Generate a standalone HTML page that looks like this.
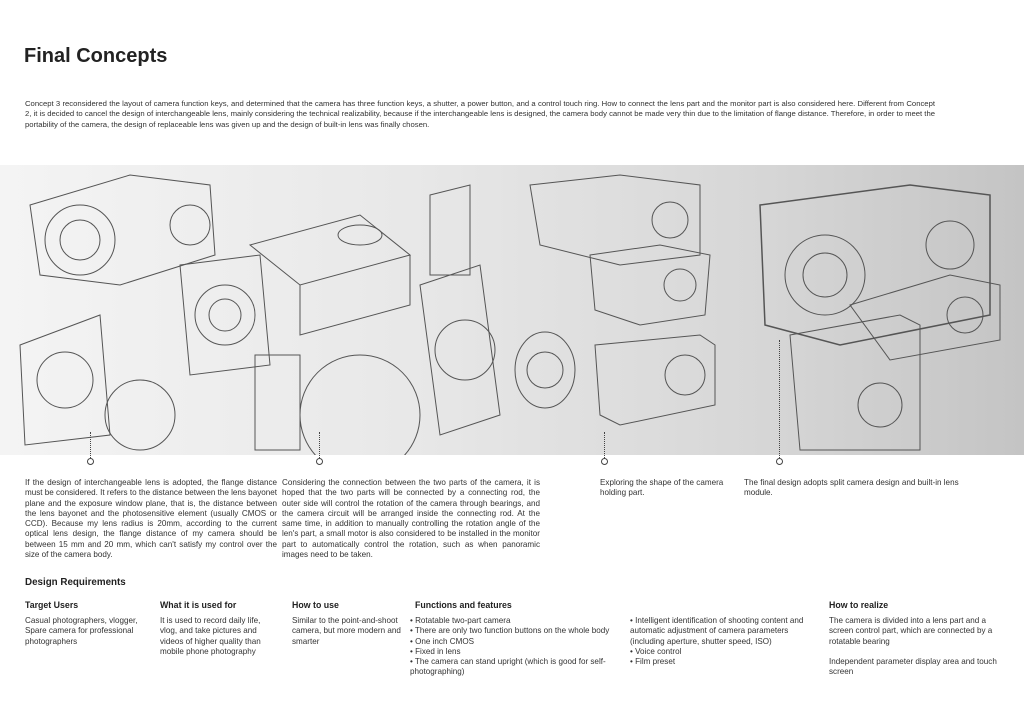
<!DOCTYPE html>
<html><head><meta charset="utf-8"><style>
*{margin:0;padding:0;box-sizing:border-box}
body{width:1024px;height:724px;background:#fff;position:relative;overflow:hidden;font-family:"Liberation Sans",sans-serif;color:#333}
.a{position:absolute}
h1{position:absolute;left:24px;top:45px;font-size:20px;font-weight:bold;color:#222}
.p{font-size:8.1px;line-height:10.3px;text-align:justify;color:#333}
.h{font-size:8.8px;font-weight:bold;color:#222}
.band{left:0;top:165px;width:1024px;height:290px;background:linear-gradient(90deg,#f4f4f4 0%,#e8e8e8 40%,#d6d6d6 75%,#c4c4c4 100%)}
.dot{position:absolute;width:7px;height:7px;border:1px solid #444;border-radius:50%;background:#fff}
.dl{position:absolute;width:0;border-left:1px dotted #444}
</style></head><body>
<h1>Final Concepts</h1>
<div class="a p" style="left:25px;top:99px;width:910px;font-size:7.7px">Concept 3 reconsidered the layout of camera function keys, and determined that the camera has three function keys, a shutter, a power button, and a control touch ring. How to connect the lens part and the monitor part is also considered here. Different from Concept 2, it is decided to cancel the design of interchangeable lens, mainly considering the technical realizability, because if the interchangeable lens is designed, the camera body cannot be made very thin due to the limitation of flange distance. Therefore, in order to meet the portability of the camera, the design of replaceable lens was given up and the design of built-in lens was finally chosen.</div>
<div class="a band"></div>
<svg class="a" style="left:0;top:165px" width="1024" height="290" fill="none" stroke="#555" stroke-width="1">
<path d="M30 40 L130 10 L210 20 L215 90 L120 120 L40 110 Z"/><circle cx="80" cy="75" r="35"/><circle cx="80" cy="75" r="20"/><circle cx="190" cy="60" r="20"/>
<path d="M20 180 L100 150 L110 270 L25 280 Z"/><circle cx="65" cy="215" r="28"/><circle cx="140" cy="250" r="35"/>
<path d="M180 100 L260 90 L270 200 L190 210 Z"/><circle cx="225" cy="150" r="30"/><circle cx="225" cy="150" r="16"/>
<path d="M250 80 L360 50 L410 90 L300 120 Z M300 120 L300 170 L410 140 L410 90"/><ellipse cx="360" cy="70" rx="22" ry="10"/>
<path d="M255 190 L300 190 L300 285 L255 285 Z"/><circle cx="360" cy="250" r="60"/>
<path d="M430 30 L470 20 L470 110 L430 110 Z"/><path d="M420 120 L480 100 L500 250 L440 270 Z"/><circle cx="465" cy="185" r="30"/><ellipse cx="545" cy="205" rx="30" ry="38"/><circle cx="545" cy="205" r="18"/>
<path d="M530 20 L620 10 L700 20 L700 90 L620 100 L540 80 Z"/><circle cx="670" cy="55" r="18"/>
<path d="M590 90 L660 80 L710 90 L705 150 L640 160 L595 145 Z"/><circle cx="680" cy="120" r="16"/>
<path d="M595 180 L700 170 L715 180 L715 240 L620 260 L600 250 Z"/><circle cx="685" cy="210" r="20"/>
<path d="M760 40 L910 20 L990 30 L990 150 L840 180 L765 160 Z" stroke-width="1.5"/><circle cx="825" cy="110" r="40"/><circle cx="825" cy="110" r="22"/><circle cx="950" cy="80" r="24"/>
<path d="M850 140 L950 110 L1000 120 L1000 175 L890 195 Z"/><circle cx="965" cy="150" r="18"/>
<path d="M790 170 L900 150 L920 160 L920 285 L800 285 Z"/><circle cx="880" cy="240" r="22"/>
</svg>
<div class="dl" style="left:90px;top:432px;height:26px"></div><div class="dot" style="left:87px;top:458px"></div>
<div class="dl" style="left:319px;top:432px;height:26px"></div><div class="dot" style="left:316px;top:458px"></div>
<div class="dl" style="left:604px;top:432px;height:26px"></div><div class="dot" style="left:601px;top:458px"></div>
<div class="dl" style="left:779px;top:340px;height:118px"></div><div class="dot" style="left:776px;top:458px"></div>
<div class="a p" style="left:25px;top:478px;width:252px">If the design of interchangeable lens is adopted, the flange distance must be considered. It refers to the distance between the lens bayonet plane and the exposure window plane, that is, the distance between the lens bayonet and the photosensitive element (usually CMOS or CCD). Because my lens radius is 20mm, according to the current optical lens design, the flange distance of my camera should be between 15 mm and 20 mm, which can't satisfy my control over the size of the camera body.</div>
<div class="a p" style="left:282px;top:478px;width:258px">Considering the connection between the two parts of the camera, it is hoped that the two parts will be connected by a connecting rod, the outer side will control the rotation of the camera through bearings, and the camera circuit will be arranged inside the connecting rod. At the same time, in addition to manually controlling the rotation angle of the len's part, a small motor is also considered to be installed in the monitor part to automatically control the rotation, such as when panoramic images need to be taken.</div>
<div class="a p" style="left:600px;top:478px;width:136px;text-align:left">Exploring the shape of the camera holding part.</div>
<div class="a p" style="left:744px;top:478px;width:256px;text-align:left">The final design adopts split camera design and built-in lens<br>module.</div>
<div class="a h" style="left:25px;top:577px;font-size:9.8px">Design Requirements</div>
<div class="a h" style="left:25px;top:600px">Target Users</div>
<div class="a h" style="left:160px;top:600px">What it is used for</div>
<div class="a h" style="left:292px;top:600px">How to use</div>
<div class="a h" style="left:415px;top:600px">Functions and features</div>
<div class="a h" style="left:829px;top:600px">How to realize</div>
<div class="a p" style="left:25px;top:616px;width:120px;text-align:left">Casual photographers, vlogger, Spare camera for professional photographers</div>
<div class="a p" style="left:160px;top:616px;width:116px;text-align:left">It is used to record daily life, vlog, and take pictures and videos of higher quality than mobile phone photography</div>
<div class="a p" style="left:292px;top:616px;width:112px;text-align:left">Similar to the point-and-shoot camera, but more modern and smarter</div>
<div class="a p" style="left:410px;top:616px;width:215px;text-align:left">• Rotatable two-part camera<br>• There are only two function buttons on the whole body<br>• One inch CMOS<br>• Fixed in lens<br>• The camera can stand upright (which is good for self-photographing)</div>
<div class="a p" style="left:630px;top:616px;width:195px;text-align:left">• Intelligent identification of shooting content and automatic adjustment of camera parameters (including aperture, shutter speed, ISO)<br>• Voice control<br>• Film preset</div>
<div class="a p" style="left:829px;top:616px;width:170px;text-align:left">The camera is divided into a lens part and a screen control part, which are connected by a rotatable bearing<br><br>Independent parameter display area and touch screen</div>
</body></html>
